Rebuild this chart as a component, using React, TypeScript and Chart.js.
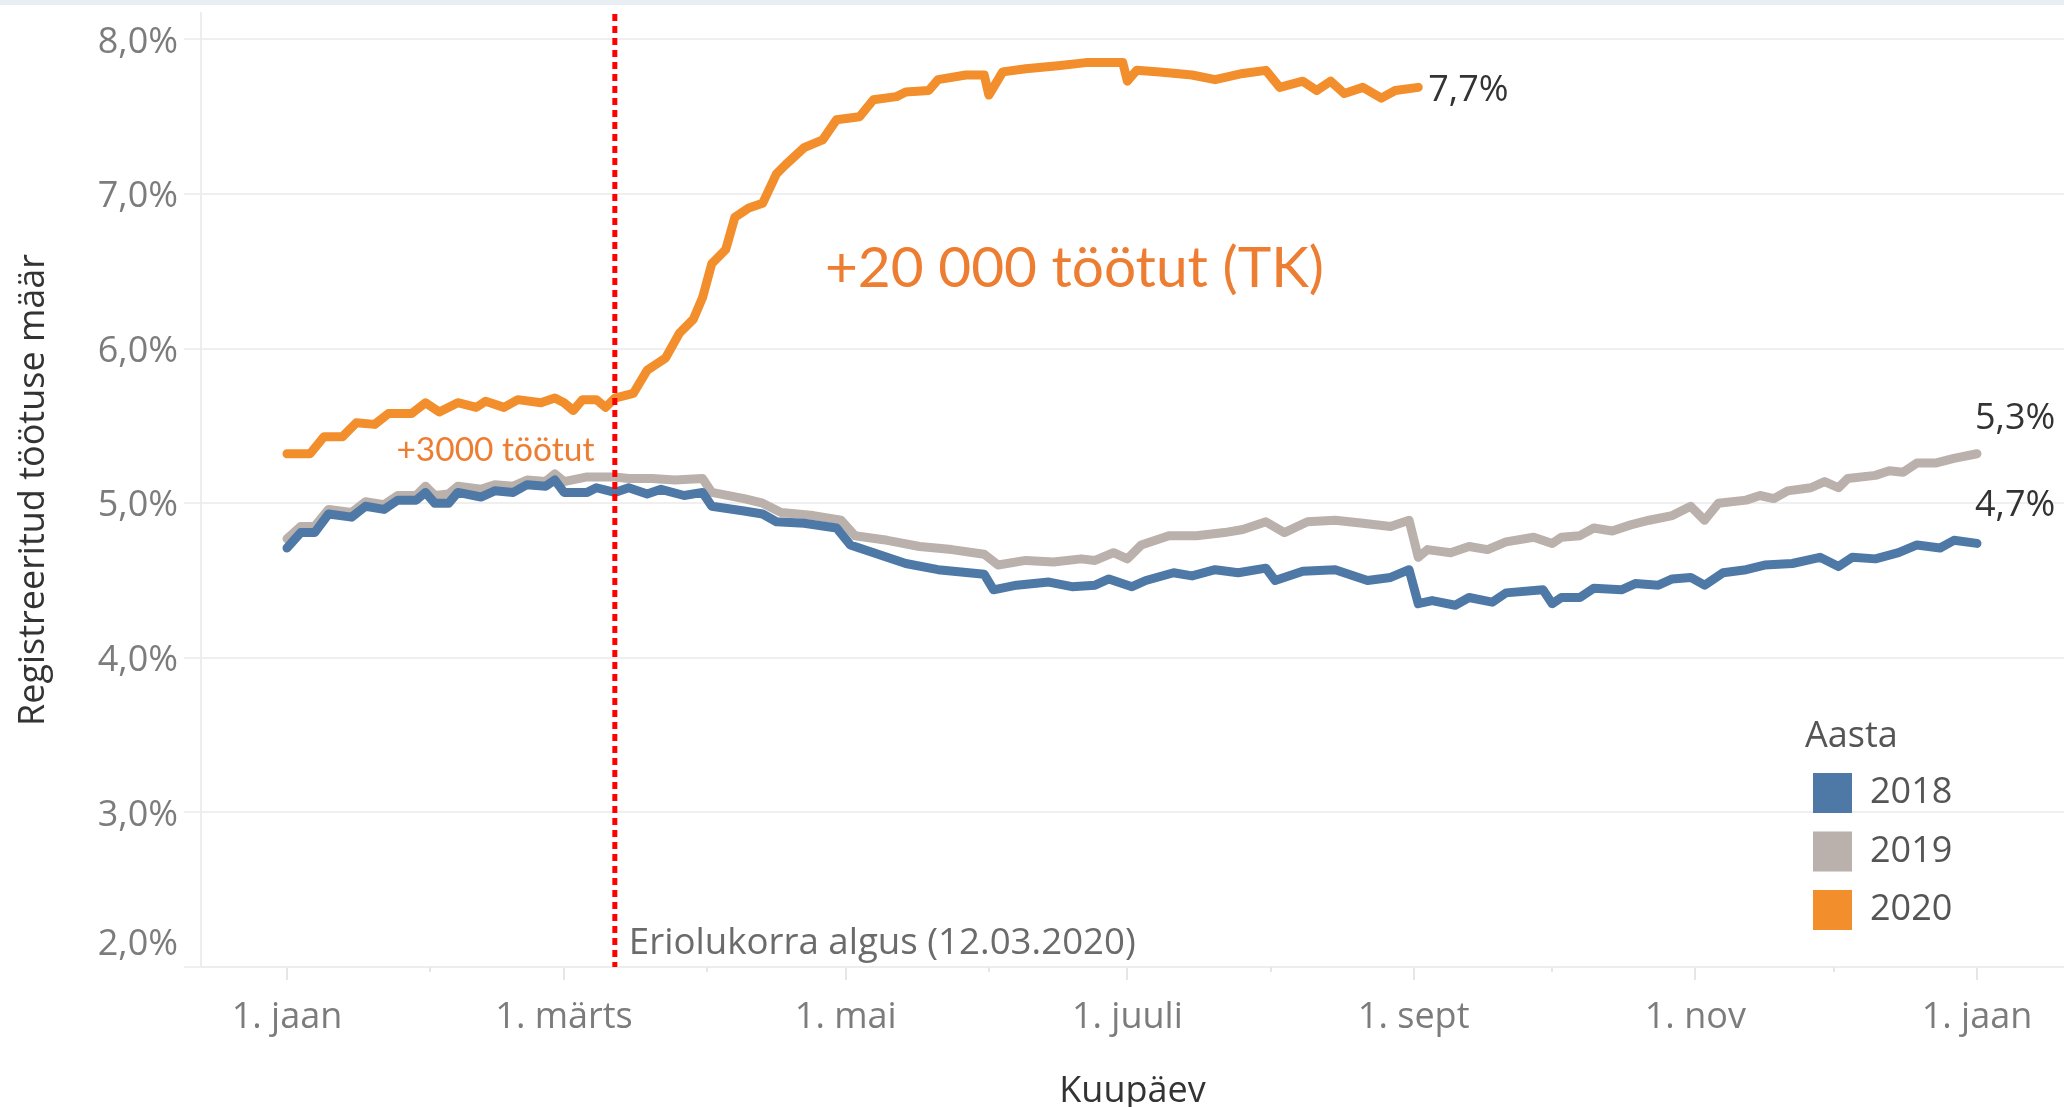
import React, { useEffect, useRef } from 'react';
import { Chart, registerables } from 'chart.js';

Chart.register(...registerables);

// ---------- data ----------
const YEARS = ['2018', '2019', '2020'];
const COLORS = ['#4e79a7', '#bab0ac', '#f28e2b'];

// x = days since 1 January (leap-year axis), y = registered unemployment rate, %
const days2018 = [0,3,6,9,14,17,21,24,28,30,32,35,37,42,45,49,52,56,58,60,65,67,71,74,78,81,86,90,92,99,103,106,112,119,122,128,134,141,151,153,158,165,170,175,178,183,186,192,196,201,206,212,214,220,227,234,239,243,245,248,253,256,261,264,272,274,276,280,283,289,292,297,300,304,307,311,316,320,326,332,336,339,344,349,353,358,361,366];
const rate2018 = [4.71,4.81,4.81,4.93,4.91,4.98,4.96,5.02,5.02,5.07,5.00,5.00,5.07,5.04,5.08,5.07,5.12,5.11,5.15,5.07,5.07,5.10,5.07,5.10,5.06,5.09,5.05,5.07,4.98,4.95,4.93,4.88,4.87,4.84,4.73,4.67,4.61,4.57,4.54,4.44,4.47,4.49,4.46,4.47,4.51,4.46,4.50,4.55,4.53,4.57,4.55,4.58,4.50,4.56,4.57,4.50,4.52,4.57,4.35,4.37,4.34,4.39,4.36,4.42,4.44,4.35,4.39,4.39,4.45,4.44,4.48,4.47,4.51,4.52,4.47,4.55,4.57,4.60,4.61,4.65,4.59,4.65,4.64,4.68,4.73,4.71,4.76,4.74];

const days2019 = [0,3,6,9,14,17,21,24,28,30,32,35,37,42,45,49,52,56,58,60,65,71,74,79,84,90,92,99,103,107,114,120,123,130,137,144,151,154,160,166,172,175,179,182,185,191,197,203,207,212,216,221,227,233,239,243,245,247,252,256,260,264,270,274,276,280,283,287,291,295,300,304,307,310,316,319,322,325,330,333,336,338,344,347,350,353,357,361,366];
const rate2019 = [4.77,4.85,4.85,4.96,4.94,5.01,4.99,5.05,5.05,5.11,5.05,5.06,5.11,5.09,5.12,5.11,5.15,5.14,5.19,5.14,5.17,5.17,5.16,5.16,5.15,5.16,5.07,5.03,5.00,4.94,4.92,4.89,4.79,4.76,4.72,4.70,4.67,4.60,4.63,4.62,4.64,4.63,4.68,4.64,4.73,4.79,4.79,4.81,4.83,4.88,4.81,4.88,4.89,4.87,4.85,4.89,4.65,4.70,4.68,4.72,4.70,4.75,4.78,4.74,4.78,4.79,4.84,4.82,4.86,4.89,4.92,4.98,4.89,5.00,5.02,5.05,5.03,5.08,5.10,5.14,5.10,5.16,5.18,5.21,5.20,5.26,5.26,5.29,5.32];

const days2020 = [0,5,8,12,15,19,22,27,30,33,37,41,43,47,50,55,58,60,62,64,67,69,71,75,78,82,85,88,90,92,95,97,100,103,106,108,112,116,119,124,127,132,134,139,141,147,151,152,155,160,167,173,181,182,184,189,196,201,207,212,215,220,223,226,229,233,237,240,245];
const rate2020 = [5.32,5.32,5.43,5.43,5.52,5.51,5.58,5.58,5.65,5.59,5.65,5.62,5.66,5.62,5.67,5.65,5.68,5.65,5.60,5.67,5.67,5.62,5.68,5.71,5.86,5.94,6.10,6.19,6.33,6.55,6.64,6.85,6.91,6.94,7.13,7.19,7.30,7.35,7.48,7.50,7.61,7.63,7.66,7.67,7.74,7.77,7.77,7.64,7.79,7.81,7.83,7.85,7.85,7.73,7.80,7.79,7.77,7.74,7.78,7.80,7.69,7.73,7.67,7.73,7.65,7.69,7.62,7.67,7.69];

const SERIES_DAYS = [days2018, days2019, days2020];
const SERIES_RATES = [rate2018, rate2019, rate2020];

const MAJOR_TICK_DAYS = [0, 60, 121, 182, 244, 305, 366];
const MAJOR_TICK_LABELS = ['1. jaan', '1. märts', '1. mai', '1. juuli', '1. sept', '1. nov', '1. jaan'];
const MINOR_TICK_DAYS = [31, 91, 152, 213, 274, 335];
const Y_TICKS = [2, 3, 4, 5, 6, 7, 8];

const EMERGENCY_DAY = 71; // 12.03.2020
const EMERGENCY_LABEL = 'Eriolukorra algus (12.03.2020)';
const NOTE_BIG = '+20 000 töötut (TK)';
const NOTE_SMALL = '+3000 töötut';
const LEGEND_TITLE = 'Aasta';
const X_TITLE = 'Kuupäev';
const Y_TITLE = 'Registreeritud töötuse määr';

// axis extents
const X_MIN = -18.62;
const X_MAX = 384.84;
const Y_MIN = 2;
const Y_MAX = 8.171;

// ---------- helpers ----------
const fmtPct = (v: number) => (Math.round(v * 10) / 10).toFixed(1).replace('.', ',') + '%';
const TAB_FONT = "'Open Sans', sans-serif";
const NOTE_FONT = "Lato, 'Open Sans', sans-serif";
const TICK_COLOR = '#7c7c7c';

function fillFitted(ctx: CanvasRenderingContext2D, text: string, x: number, yBase: number, font: string, color: string, width?: number) {
  ctx.save();
  ctx.font = font;
  ctx.fillStyle = color;
  ctx.textAlign = 'left';
  ctx.textBaseline = 'alphabetic';
  const w = ctx.measureText(text).width;
  ctx.translate(x, yBase);
  if (width) ctx.scale(width / w, 1);
  ctx.fillText(text, 0, 0);
  ctx.restore();
}

const overlayPlugin = {
  id: 'overlay',
  afterDatasetsDraw(chart: any) {
    const { ctx, chartArea, scales } = chart;
    const x = scales.x;
    const y = scales.y;

    // emergency line (dotted red)
    const ex = x.getPixelForValue(EMERGENCY_DAY);
    ctx.save();
    ctx.strokeStyle = '#ff0000';
    ctx.lineWidth = 5;
    ctx.setLineDash([7, 5]);
    ctx.beginPath();
    ctx.moveTo(ex, chartArea.top + 1);
    ctx.lineTo(ex, chartArea.bottom);
    ctx.stroke();
    ctx.restore();

    // emergency label
    fillFitted(ctx, EMERGENCY_LABEL, ex + 14, chartArea.bottom - 13, `36px ${TAB_FONT}`, '#6b6b6b', 507);

    // orange notes
    fillFitted(ctx, NOTE_BIG, x.getPixelForValue(116.5), y.getPixelForValue(6.40), `57px ${NOTE_FONT}`, '#ed7d31', 499);
    fillFitted(ctx, NOTE_SMALL, x.getPixelForValue(23.7), y.getPixelForValue(5.27), `33px ${NOTE_FONT}`, '#ed7d31', 198);

    // end-of-line value labels
    const offsets = [
      { dx: -2, dy: -38 },
      { dx: -2, dy: -35 },
      { dx: 10, dy: 3 },
    ];
    ctx.save();
    ctx.font = `36px ${TAB_FONT}`;
    ctx.fillStyle = '#333333';
    ctx.textAlign = 'left';
    ctx.textBaseline = 'middle';
    chart.data.datasets.forEach((ds: any, i: number) => {
      const meta = chart.getDatasetMeta(i);
      const pt = meta.data[meta.data.length - 1];
      const v = ds.data[ds.data.length - 1].y;
      ctx.fillText(fmtPct(v), pt.x + offsets[i].dx, pt.y + offsets[i].dy);
    });
    ctx.restore();
  },
  afterDraw(chart: any) {
    const { ctx, chartArea, scales } = chart;
    const x = scales.x;
    const y = scales.y;

    // minor month ticks
    ctx.save();
    ctx.strokeStyle = '#e6e6e6';
    ctx.lineWidth = 2;
    MINOR_TICK_DAYS.forEach((d) => {
      const px = Math.round(x.getPixelForValue(d));
      ctx.beginPath();
      ctx.moveTo(px, chartArea.bottom);
      ctx.lineTo(px, chartArea.bottom + 5);
      ctx.stroke();
    });
    ctx.restore();

    // bottom y label (pushed up inside the axis, as in the original)
    ctx.save();
    ctx.font = `36px ${TAB_FONT}`;
    ctx.fillStyle = TICK_COLOR;
    ctx.textAlign = 'right';
    ctx.textBaseline = 'middle';
    ctx.fillText(fmtPct(Y_TICKS[0]), y.right - 23, y.getPixelForValue(Y_TICKS[0]) - 22);
    ctx.restore();

    // legend
    const lx = chartArea.right - 251;
    ctx.save();
    ctx.font = `36px ${TAB_FONT}`;
    ctx.fillStyle = '#555555';
    ctx.textAlign = 'left';
    ctx.textBaseline = 'middle';
    ctx.fillText(LEGEND_TITLE, lx - 8, 737);
    chart.data.datasets.forEach((ds: any, i: number) => {
      const top = 773 + i * 58.5;
      ctx.fillStyle = ds.borderColor;
      ctx.fillRect(lx, top, 39, 40);
      ctx.fillStyle = '#555555';
      ctx.fillText(ds.label, lx + 57, top + 20);
    });
    ctx.restore();
  },
};

export default function App() {
  const ref = useRef<HTMLCanvasElement>(null);

  useEffect(() => {
    const canvas = ref.current;
    if (!canvas) return;
    const datasets = YEARS.map((yr, i) => ({
      label: yr,
      data: SERIES_DAYS[i].map((d, k) => ({ x: d, y: SERIES_RATES[i][k] })),
      borderColor: COLORS[i],
      backgroundColor: COLORS[i],
      borderWidth: 9,
      pointRadius: 0,
      tension: 0,
      borderJoinStyle: 'round' as const,
      borderCapStyle: 'round' as const,
      fill: false,
      order: i === 2 ? 0 : i + 1,
    }));

    const chart = new Chart(canvas, {
      type: 'line',
      data: { datasets },
      options: {
        animation: false,
        responsive: false,
        maintainAspectRatio: false,
        devicePixelRatio: 1,
        layout: { padding: { top: 13, left: 0, right: 0, bottom: 0 } },
        plugins: {
          legend: { display: false },
          tooltip: { enabled: false },
        },
        scales: {
          x: {
            type: 'linear',
            min: X_MIN,
            max: X_MAX,
            afterBuildTicks: (s: any) => {
              s.ticks = MAJOR_TICK_DAYS.map((v) => ({ value: v }));
            },
            afterFit: (s: any) => {
              s.height = 140;
              s.paddingLeft = 0;
              s.paddingRight = 0;
            },
            ticks: {
              autoSkip: false,
              maxRotation: 0,
              padding: 16,
              color: TICK_COLOR,
              font: { family: TAB_FONT, size: 36 },
              callback: (v: any) => {
                const idx = MAJOR_TICK_DAYS.indexOf(Number(v));
                return idx >= 0 ? MAJOR_TICK_LABELS[idx] : '';
              },
            },
            grid: {
              drawOnChartArea: false,
              drawTicks: true,
              tickLength: 13,
              color: '#e6e6e6',
              lineWidth: 2,
            },
            border: { display: true, color: '#ededed', width: 2 },
            title: {
              display: true,
              text: X_TITLE,
              color: '#333333',
              font: { family: TAB_FONT, size: 36, lineHeight: 1 },
              padding: { top: 0, bottom: -3 },
            },
          },
          y: {
            type: 'linear',
            min: Y_MIN,
            max: Y_MAX,
            afterBuildTicks: (s: any) => {
              s.ticks = Y_TICKS.map((v) => ({ value: v }));
            },
            afterFit: (s: any) => {
              s.width = 201;
              s.paddingTop = 0;
              s.paddingBottom = 0;
            },
            ticks: {
              padding: 6,
              labelOffset: 3,
              color: TICK_COLOR,
              font: { family: TAB_FONT, size: 36 },
              callback: (v: any) => (Number(v) === Y_TICKS[0] ? '' : fmtPct(Number(v))),
            },
            grid: {
              color: '#efefef',
              lineWidth: 2,
              drawTicks: true,
              tickLength: 17,
            },
            border: { display: true, color: '#ededed', width: 2 },
            title: {
              display: true,
              text: Y_TITLE,
              color: '#333333',
              font: { family: TAB_FONT, size: 36, lineHeight: 1 },
              padding: { top: 16, bottom: 0 },
            },
          },
        },
      },
      plugins: [overlayPlugin],
    } as any);

    return () => chart.destroy();
  }, []);

  return (
    <div style={{ position: 'fixed', left: 0, top: 0, width: 2064, height: 1107, background: '#ffffff', overflow: 'hidden' }}>
      <canvas ref={ref} width={2064} height={1107} style={{ position: 'absolute', left: 0, top: 0, width: 2064, height: 1107 }} />
      <div style={{ position: 'absolute', left: 0, top: 0, width: 2064, height: 5, background: '#e8eff2' }} />
    </div>
  );
}
